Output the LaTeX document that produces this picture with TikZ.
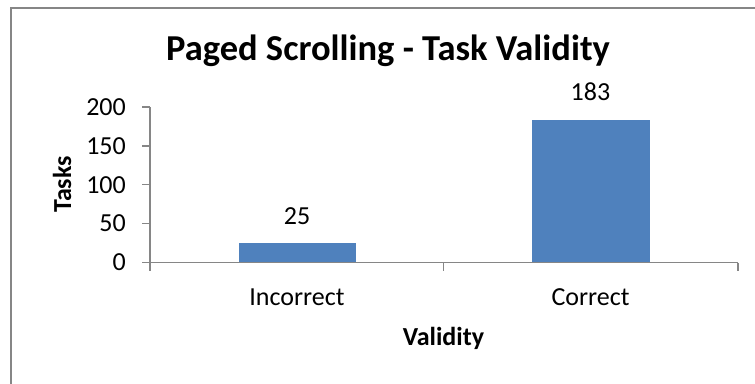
\documentclass[tikz,border=0pt]{standalone}
\usepackage{fontspec}
\setmainfont{Carlito}
\definecolor{barblue}{HTML}{4F81BD}
\definecolor{axgray}{HTML}{868686}
\begin{document}
\begin{tikzpicture}[x=1pt,y=-1pt,
  axis/.style={draw=axgray,line width=1.3pt},
  bar/.style={fill=barblue,draw=none},
  ticklab/.style={anchor=east,inner sep=0pt,font=\fontsize{26}{28}\selectfont},
  vallab/.style={inner sep=0pt,font=\fontsize{26}{28}\selectfont},
  catlab/.style={inner sep=0pt,font=\fontsize{26}{28}\selectfont},
  axtitle/.style={inner sep=0pt,font=\bfseries\fontsize{26}{28}\selectfont},
  charttitle/.style={inner sep=0pt,font=\bfseries\fontsize{36.5}{40}\selectfont}]
\useasboundingbox (0,0) rectangle (755,383);
\draw[axgray,line width=1.3pt] (11,390) -- (11,8) -- (760,8);
% axes
\coordinate (o) at (150,262.5);
\coordinate (ytop) at (150,107);
\coordinate (xend) at (738,262.5);
\draw[axis] (ytop) -- (o) -- (xend);
\foreach \v/\y in {0/262.5,50/223.6,100/184.8,150/145.9,200/107}{
  \draw[axis] (142,\y) -- (150,\y);
  \node[ticklab] (t\v) at (126,\y) {\v};
}
\foreach \x in {150,443.5,738}{\draw[axis] (\x,262.5) -- (\x,270.5);}
% bars
\fill[bar] (238.5,243.1) rectangle (355.5,262) node[pos=0.5] (b1) {};
\fill[bar] (532,120.2) rectangle (649.5,262) node[pos=0.5] (b2) {};
\node[vallab] (v1) at (297,216.5) {25};
\node[vallab] (v2) at (590.5,92) {183};
\node[catlab] (c1) at (297,297) {Incorrect};
\node[catlab] (c2) at (590.5,297) {Correct};
\node[axtitle] (xt) at (443.5,338) {Validity};
\node[axtitle,rotate=90] (yt) at (62,184.5) {Tasks};
\node[charttitle] (title) at (388,51) {Paged Scrolling - Task Validity};
\end{tikzpicture}
\end{document}
